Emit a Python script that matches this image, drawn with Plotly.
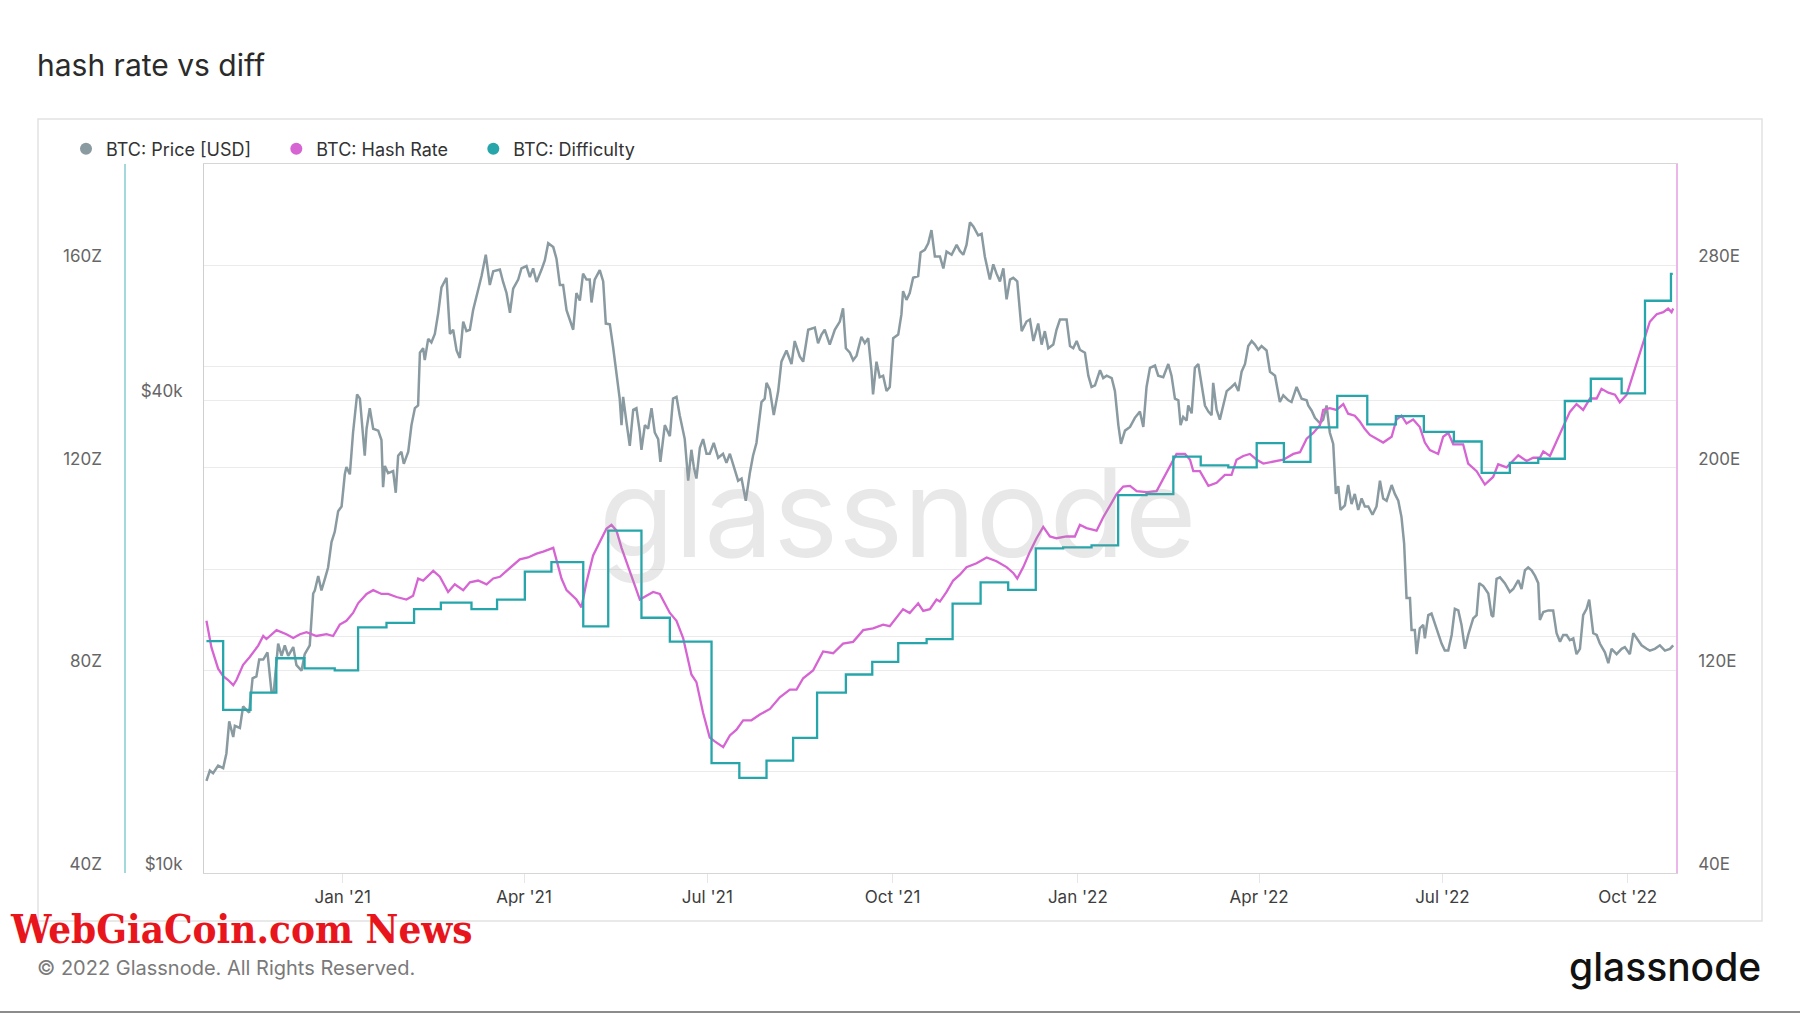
import numpy as np
import pandas as pd
import plotly.graph_objects as go

# ---------------- data (x values are days since 2021-01-01) ----------------
BASE = pd.Timestamp("2021-01-01")

diff_day = [-67.7, -59.4, -45.8, -33.0, -19.0, -4.0, 7.6, 21.7, 35.4, 48.7, 63.9, 76.6, 90.4, 103.6,
            119.4, 131.8, 148.3, 162.4, 183.1, 196.9, 210.4, 223.6, 235.5, 249.8, 262.9, 275.8, 289.9,
            302.8, 316.7, 330.4, 344.1, 357.7, 371.8, 385.0, 399.1, 412.4, 426.0, 439.7, 453.8, 467.3,
            480.5, 493.8, 508.7, 522.9, 536.8, 551.7, 565.5, 579.5, 593.6, 606.8, 619.7, 635.0, 646.6,
            659.5, 660.4]
diff_z = [85.8, 72.2, 75.6, 82.4, 80.4, 80.0, 88.5, 89.4, 92.1, 93.4, 92.1, 94.0, 99.5, 101.4,
          88.7, 107.6, 90.4, 85.7, 61.7, 58.8, 62.2, 66.7, 75.6, 79.2, 81.7, 85.4, 86.2,
          93.2, 97.4, 95.9, 104.1, 104.3, 104.7, 114.6, 114.8, 122.2, 120.5, 120.1, 124.9, 121.2,
          128.0, 134.2, 128.6, 130.2, 127.1, 125.2, 119.0, 121.0, 121.8, 133.2, 137.6, 134.7, 153.0,
          158.3, 158.3]

hash_day = [-67.7, -65.2, -61.9, -59.4, -56.9, -54.4, -52.8, -49.5, -46.2, -42.0, -39.5, -37.9, -32.9,
            -28.0, -24.6, -21.3, -18.0, -13.1, -8.1, -4.8, -1.5, 1.8, 5.1, 7.6, 11.8, 15.1, 19.2, 22.5,
            26.7, 31.6, 34.9, 37.4, 39.9, 44.9, 48.2, 52.3, 55.6, 59.8, 63.1, 67.2, 71.4, 74.7, 78.0,
            81.3, 84.6, 87.9, 92.0, 96.2, 99.5, 103.6, 104.5, 108.6, 111.1, 116.0, 118.5, 121.0, 124.3,
            127.6, 130.9, 133.4, 135.9, 138.4, 142.5, 147.5, 150.8, 154.1, 157.4, 162.4, 165.7, 169.0,
            173.1, 175.6, 178.9, 182.2, 184.7, 188.9, 192.2, 195.5, 198.8, 202.9, 207.1, 212.1, 217.0,
            222.0, 225.3, 228.6, 233.5, 238.5, 243.5, 248.4, 253.4, 258.4, 263.3, 268.3, 271.6, 275.0,
            278.2, 281.5, 285.7, 288.2, 291.5, 294.8, 296.5, 299.8, 303.1, 306.4, 309.7, 314.7, 319.7,
            324.6, 329.6, 332.9, 334.9, 337.9, 341.2, 344.5, 347.8, 351.1, 354.4, 359.4, 363.5, 366.0,
            369.3, 374.3, 377.6, 380.9, 384.2, 387.5, 390.9, 394.2, 399.1, 404.1, 407.4, 410.7, 414.0,
            418.2, 420.7, 422.3, 425.6, 429.8, 433.9, 438.0, 441.3, 443.8, 447.1, 450.4, 453.8, 457.1,
            462.0, 467.0, 472.0, 475.3, 478.6, 481.9, 485.2, 486.8, 490.1, 493.4, 496.8, 499.2, 502.5,
            505.0, 507.5, 510.0, 513.3, 516.6, 520.8, 523.2, 525.7, 528.2, 531.5, 534.8, 537.3, 539.8,
            543.9, 546.4, 548.9, 551.4, 556.3, 558.8, 563.0, 567.1, 571.2, 573.7, 577.9, 581.2, 583.7,
            587.8, 591.1, 594.4, 596.1, 599.4, 602.7, 606.0, 609.3, 612.6, 615.9, 619.3, 622.6, 625.0,
            628.4, 631.7, 634.1, 637.5, 639.9, 643.3, 645.7, 649.0, 652.4, 655.7, 658.1, 659.8, 660.6]
hash_e = [139.6, 129.0, 120.7, 117.7, 116.2, 114.2, 116.2, 122.2, 125.3, 129.8, 133.6, 132.4, 135.9,
          134.3, 132.8, 134.3, 135.1, 133.6, 134.3, 133.6, 138.1, 139.6, 142.7, 146.5, 150.2, 151.7, 150.2, 150.2,
          149.0, 148.0, 149.5, 156.3, 155.5, 159.3, 157.0, 151.0, 154.0, 151.7, 154.8, 155.5, 154.0, 156.3, 157.0,
          159.3, 161.6, 163.9, 164.6, 166.1, 166.9, 168.1, 168.4, 156.3, 151.7, 148.0, 144.9, 154.8, 165.4,
          170.7, 176.0, 177.5, 175.2, 168.4, 159.3, 148.0, 149.5, 151.0, 150.2, 142.7, 139.6, 132.8,
          118.4, 115.4, 103.3, 93.5, 92.0, 89.7, 94.3, 96.6, 100.3, 100.3, 102.6, 104.8, 109.4,
          112.4, 112.4, 116.9, 120.0, 127.5, 126.8, 130.6, 131.3, 135.9, 136.6, 138.1, 137.5, 141.2,
          144.2, 142.7, 146.5, 143.5, 144.2, 148.0, 147.2, 151.0, 155.5, 157.8, 160.8, 162.3, 164.6,
          163.1, 160.8, 158.5, 156.3, 160.8, 166.9, 172.2, 176.7, 172.9, 172.2, 172.9, 172.9, 177.5,
          176.2, 175.2, 180.5, 185.0, 189.6, 192.6, 192.9, 190.8, 190.4, 190.8, 195.6, 200.2, 205.5,
          205.5, 203.2, 198.7, 198.7, 192.9, 194.1, 197.2, 197.2, 203.2, 204.7, 205.5, 203.2, 201.7,
          202.5, 203.2, 205.5, 206.2, 211.5, 213.8, 216.8, 222.9, 223.6, 222.9, 225.2, 221.4, 220.6,
          218.3, 215.3, 213.0, 211.5, 210.0, 212.3, 219.1, 220.6, 217.5, 219.1, 216.1, 210.0, 207.0,
          205.5, 212.3, 213.8, 209.3, 209.3, 201.7, 198.7, 193.4, 196.4, 201.4, 200.2, 202.7, 205.0,
          202.7, 204.0, 204.0, 206.5, 204.7, 210.7, 216.8, 222.1, 225.2, 222.9, 227.4, 227.4, 231.2,
          229.7, 228.9, 225.9, 228.9, 235.0, 244.0, 250.1, 257.7, 260.7, 261.5, 262.9, 261.5, 262.9]

price_day = [-67.7, -66.0, -64.4, -61.9, -59.4, -57.8, -56.4, -54.4, -53.6, -51.1, -49.5, -46.5, -44.8,
             -42.9, -41.5, -39.5, -37.4, -35.4, -34.3, -32.1, -30.4, -28.8, -27.1, -24.6, -23.0, -20.5,
             -18.9, -16.4, -14.7, -13.9, -12.2, -10.6, -8.9, -7.3, -5.6, -4.0, -2.3, -0.6, 1.0, 1.8, 3.5,
             5.1, 7.1, 8.5, 10.9, 11.8, 13.4, 15.1, 17.6, 19.2, 20.0, 20.9, 22.5, 25.0, 26.3, 27.5, 29.1,
             30.3, 32.5, 34.1, 35.8, 37.4, 38.3, 39.9, 40.7, 42.4, 44.0, 45.7, 47.4, 49.0, 51.5, 53.2,
             54.8, 56.5, 58.1, 59.8, 61.4, 63.1, 64.7, 67.2, 68.9, 71.0, 73.0, 74.7, 78.0, 79.6, 81.3,
             83.0, 84.6, 87.1, 88.7, 91.2, 92.9, 94.5, 96.2, 98.7, 100.3, 102.0, 104.5, 106.1, 107.8,
             109.4, 111.1, 114.4, 116.0, 117.7, 119.3, 121.0, 122.6, 123.5, 125.1, 127.6, 129.3, 130.6,
             132.6, 134.2, 135.9, 137.5, 138.4, 139.2, 140.8, 142.5, 144.2, 145.8, 147.5, 148.3, 150.0,
             151.6, 153.3, 154.9, 156.6, 157.7, 159.9, 162.4, 164.0, 165.7, 167.3, 169.8, 171.5, 173.1,
             174.3, 175.6, 177.3, 178.9, 180.6, 182.2, 184.2, 186.4, 188.8, 190.5, 192.2, 194.6, 196.3,
             198.0, 200.1, 202.1, 203.7, 205.4, 207.9, 209.5, 210.4, 212.0, 214.0, 216.2, 217.8, 220.3,
             222.8, 224.4, 226.9, 228.6, 231.1, 234.4, 236.0, 237.7, 239.3, 241.8, 244.3, 246.8, 248.4,
             249.8, 251.8, 253.4, 255.1, 257.5, 259.2, 260.9, 262.5, 263.3, 265.0, 266.6, 268.3, 270.0,
             271.6, 273.3, 275.8, 277.4, 278.2, 279.9, 281.5, 283.2, 285.7, 286.9, 289.0, 290.7, 292.3,
             294.0, 296.5, 298.2, 299.8, 302.3, 304.8, 306.4, 308.1, 309.7, 311.4, 313.1, 315.5, 317.2,
             318.8, 321.3, 323.0, 324.6, 326.3, 328.0, 329.6, 331.3, 332.9, 334.9, 337.1, 339.5, 341.2,
             342.9, 345.3, 347.0, 348.6, 350.3, 352.8, 354.4, 356.1, 359.4, 361.1, 362.7, 364.4, 366.0,
             368.5, 370.2, 371.8, 373.5, 376.0, 377.6, 379.3, 381.8, 383.4, 385.1, 386.4, 388.4, 390.9,
             393.3, 395.8, 397.5, 399.1, 400.8, 403.3, 404.9, 407.4, 409.9, 411.5, 413.2, 414.9, 416.0,
             417.3, 419.0, 419.8, 421.5, 423.1, 424.8, 426.4, 428.1, 429.8, 431.4, 432.2, 433.9, 435.5,
             437.2, 438.9, 441.3, 443.0, 444.7, 446.3, 448.0, 449.6, 451.3, 452.9, 454.6, 456.2, 458.7,
             460.4, 462.9, 464.5, 465.3, 467.0, 469.5, 471.1, 473.6, 476.1, 478.6, 479.4, 481.1, 482.7,
             485.2, 486.8, 488.5, 490.1, 491.8, 493.1, 494.3, 495.4, 497.6, 499.2, 500.9, 502.5, 504.2,
             505.9, 507.5, 509.2, 511.3, 513.3, 515.0, 516.6, 518.3, 520.8, 522.4, 524.1, 525.7, 527.0,
             528.2, 529.9, 530.7, 532.3, 533.2, 534.8, 536.5, 537.3, 539.0, 540.6, 543.1, 545.6, 547.2,
             548.9, 550.6, 552.2, 553.9, 555.5, 557.2, 558.8, 561.3, 563.0, 564.3, 566.3, 568.8, 570.4,
             571.2, 572.9, 574.6, 577.0, 579.5, 581.2, 583.7, 585.3, 587.0, 588.6, 590.3, 592.0, 593.6,
             594.4, 596.1, 598.6, 601.0, 602.7, 604.4, 606.0, 607.7, 609.3, 611.0, 612.6, 614.3, 615.9,
             617.6, 618.9, 620.9, 622.6, 624.2, 625.9, 626.7, 628.4, 630.0, 632.5, 635.0, 636.6, 639.1,
             640.8, 643.3, 644.9, 647.4, 649.0, 651.5, 654.0, 656.5, 659.0, 660.6]
price_k = [13.1, 13.5, 13.4, 13.7, 13.6, 14.2, 15.6, 14.9, 15.4, 15.3, 16.3, 16.0, 17.7,
           17.8, 18.7, 18.7, 19.1, 17.0, 17.0, 19.6, 18.9, 19.5, 18.9, 19.4, 18.4, 18.1,
           19.0, 19.5, 22.7, 22.9, 23.9, 22.9, 23.7, 24.5, 26.4, 27.2, 28.9, 29.3, 32.2, 32.9, 32.2,
           36.4, 40.7, 40.2, 34.0, 36.8, 39.1, 36.8, 36.6, 35.6, 31.0, 33.0, 32.3, 32.5, 30.5, 34.0, 34.4,
           33.2, 34.4, 37.2, 39.1, 39.4, 46.0, 46.6, 45.0, 47.9, 47.4, 48.6, 51.7, 55.7, 57.3, 48.6,
           49.2, 46.3, 45.3, 50.4, 49.0, 49.2, 52.1, 55.1, 57.6, 61.3, 56.1, 58.4, 58.7, 56.6, 54.8,
           51.7, 55.5, 57.0, 58.9, 59.3, 57.4, 58.9, 56.6, 58.7, 60.3, 63.4, 62.7, 60.6, 56.1,
           56.1, 52.1, 49.2, 54.8, 53.6, 58.0, 57.0, 57.0, 53.3, 57.0, 58.6, 56.7, 50.1,
           50.0, 46.8, 43.2, 40.2, 37.2, 40.4, 37.6, 35.0, 38.9, 39.1, 36.4, 34.6, 37.2,
           36.8, 39.1, 36.4, 35.7, 33.4, 37.2, 36.0, 40.2, 40.4, 38.3, 35.7, 31.6, 34.6,
           32.9, 31.8, 34.8, 35.7, 34.2, 34.2, 35.3, 33.8, 34.2, 33.3, 34.2, 32.7, 31.6,
           31.8, 29.8, 32.3, 34.0, 35.3, 39.8, 40.2, 42.1, 41.3, 38.3, 41.1, 44.8, 46.3,
           44.5, 47.6, 45.5, 44.8, 49.2, 49.5, 47.3, 48.5, 49.2, 47.1, 49.2, 50.4, 52.4,
           46.6, 46.0, 45.0, 45.6, 48.2, 47.3, 48.0, 43.7, 40.7, 44.8, 42.8, 43.0, 41.1,
           41.6, 48.0, 48.5, 51.5, 55.1, 53.7, 54.8, 57.3, 57.6, 61.7, 62.2, 63.4, 65.9,
           61.0, 61.0, 58.9, 61.9, 61.3, 63.1, 62.0, 61.3, 63.1, 67.4, 66.6, 64.9, 65.2,
           61.0, 57.0, 59.6, 58.0, 56.7, 58.9, 53.8, 57.0, 57.3, 56.7, 49.0, 50.4, 50.7,
           47.6, 50.1, 47.1, 49.0, 46.6, 47.1, 49.2, 50.7, 50.7, 46.9, 46.6, 47.6, 46.4,
           46.0, 43.0, 41.6, 41.8, 43.7, 42.7, 43.0, 42.7, 41.1, 37.2, 35.2, 36.6, 37.0,
           38.0, 38.7, 37.0, 41.6, 44.0, 44.3, 43.0, 42.8, 44.5, 43.0, 40.2, 40.0, 37.2,
           38.1, 37.7, 39.4, 38.5, 44.0, 44.5, 42.1, 39.4, 38.7, 38.3, 42.1, 38.9, 37.8,
           39.4, 41.1, 41.6, 42.0, 41.1, 43.5, 44.5, 46.9, 47.6, 47.1, 46.4, 46.9, 46.3,
           43.5, 43.0, 41.1, 39.8, 40.6, 40.0, 39.8, 41.6, 40.2, 40.0, 39.4, 38.8, 38.0,
           37.4, 37.8, 39.4, 36.4, 35.2, 30.4, 31.1, 29.0, 29.4, 31.2, 29.5, 30.4, 29.0,
           30.0, 29.3, 29.3, 28.6, 29.3, 31.6, 30.0, 29.8, 31.2, 30.4, 29.8, 28.4, 26.3,
           22.4, 22.4, 20.4, 20.4, 19.0, 20.5, 20.7, 19.9, 21.3, 21.4, 20.5, 19.6, 19.2,
           19.2, 20.1, 21.7, 21.6, 20.7, 19.3, 20.1, 21.1, 21.3, 23.4, 23.2, 22.7, 21.3,
           21.2, 23.7, 23.8, 23.4, 22.8, 23.0, 23.6, 23.0, 24.3, 24.5, 24.3, 23.9, 23.4,
           21.0, 21.5, 21.6, 21.6, 20.2, 19.7, 20.1, 20.1, 19.8, 19.9, 19.0, 19.3, 21.3,
           21.7, 22.3, 20.2, 20.1, 19.6, 19.3, 19.1, 18.5, 19.3, 19.0, 19.3, 19.4, 19.0,
           20.2, 19.8, 19.5, 19.3, 19.2, 19.3, 19.5, 19.2, 19.3, 19.5]

x_tick_dates = ["2021-01-01", "2021-04-01", "2021-07-01", "2021-10-01",
                "2022-01-01", "2022-04-01", "2022-07-01", "2022-10-01"]
x_tick_text = ["Jan '21", "Apr '21", "Jul '21", "Oct '21", "Jan '22", "Apr '22", "Jul '22", "Oct '22"]
z_tick_vals = [40, 60, 80, 100, 120, 140, 160]
z_tick_text = ["40Z", "", "80Z", "", "120Z", "", "160Z"]
e_tick_vals = [40, 120, 200, 280]
e_tick_text = ["40E", "120E", "200E", "280E"]
usd_tick_vals = [10000, 20000, 40000]
usd_tick_text = ["$10k", "", "$40k"]


def to_dates(days):
    return BASE + pd.to_timedelta(np.array(days, dtype=float), unit="D")


# ---------------- layout geometry ----------------
W, H = 1800, 1013
ML, MR, MT, MB = 40, 40, 164, 140
PW, PH = W - ML - MR, H - MT - MB


def px(x):
    return (x - ML) / PW


def py(y):
    return (H - MB - y) / PH


FONT = "Inter, Roboto, sans-serif"
C_PRICE = "#8A9AA1"
C_HASH = "#D664D2"
C_DIFF = "#26A6AA"

fig = go.Figure()

fig.add_trace(go.Scatter(x=to_dates(price_day), y=np.array(price_k) * 1000, mode="lines",
                         line=dict(color=C_PRICE, width=2.5), showlegend=False,
                         xaxis="x", yaxis="y", name="BTC: Price [USD]"))
fig.add_trace(go.Scatter(x=to_dates(hash_day), y=hash_e, mode="lines",
                         line=dict(color=C_HASH, width=2.3), showlegend=False,
                         xaxis="x", yaxis="y2", name="BTC: Hash Rate"))
fig.add_trace(go.Scatter(x=to_dates(diff_day), y=diff_z, mode="lines",
                         line=dict(color=C_DIFF, width=2.3, shape="hv"), showlegend=False,
                         xaxis="x", yaxis="y3", name="BTC: Difficulty"))

# legend entries (circle markers)
pad = "\u00a0" * 4
for name, col in [("BTC: Price [USD]", C_PRICE), ("BTC: Hash Rate", C_HASH), ("BTC: Difficulty", C_DIFF)]:
    fig.add_trace(go.Scatter(x=[None], y=[None], mode="markers", name=name + pad,
                             marker=dict(symbol="circle", size=13, color=col),
                             showlegend=True, xaxis="x", yaxis="y"))

TICKFONT = dict(family=FONT, size=17, color="#666")

fig.update_layout(
    width=W, height=H, autosize=False,
    margin=dict(l=ML, r=MR, t=MT, b=MB, pad=0),
    paper_bgcolor="white", plot_bgcolor="white",
    font=dict(family=FONT, size=16, color="#555"),
    title=dict(text="hash rate vs diff", x=37 / W, xref="container", xanchor="left",
               y=1 - 65 / H, yref="container", yanchor="middle",
               font=dict(family=FONT, size=30, color="#2b2b2b")),
    showlegend=True,
    legend=dict(orientation="h", x=px(66), xanchor="left", y=py(149), yanchor="middle",
                font=dict(family=FONT, size=18, color="#333"), itemsizing="constant",
                bgcolor="rgba(0,0,0,0)", borderwidth=0, traceorder="normal"),
    xaxis=dict(domain=[px(204), px(1676)], type="date",
               range=["2020-10-24 02:00", "2022-10-25"],
               tickvals=x_tick_dates, ticktext=x_tick_text,
               tickfont=dict(family=FONT, size=17, color="#3d3d3d"),
               ticks="outside", ticklen=9, tickcolor="#e6e6e6", tickwidth=1,
               showgrid=False, zeroline=False,
               showline=True, linecolor="#d6d6d6", linewidth=1, mirror=True),
    yaxis=dict(type="log", range=[4, np.log10(80000)], side="left", anchor="x",
               tickvals=usd_tick_vals, ticktext=usd_tick_text, tickfont=TICKFONT,
               ticks="", ticklabelposition="outside top", ticklabelstandoff=17, ticklabelshift=3,
               showgrid=True, gridcolor="#ebebeb", gridwidth=1, zeroline=False,
               showline=True, linecolor="#cfcfcf", linewidth=1),
    yaxis2=dict(range=[40, 320], side="right", anchor="x", overlaying="y",
                tickvals=e_tick_vals, ticktext=e_tick_text, tickfont=TICKFONT,
                ticks="", ticklabelposition="outside top", ticklabelstandoff=17, ticklabelshift=3,
                showgrid=False, zeroline=False,
                showline=True, linecolor="#ecb6e9", linewidth=1.5),
    yaxis3=dict(range=[40, 180], side="left", anchor="free", position=px(125), overlaying="y",
                tickvals=z_tick_vals, ticktext=z_tick_text, tickfont=TICKFONT,
                ticks="", ticklabelposition="outside top", ticklabelstandoff=19, ticklabelshift=3,
                showgrid=True, gridcolor="#ebebeb", gridwidth=1, zeroline=False,
                showline=True, linecolor="#a3d9db", linewidth=1.5),
)

# outer frame
fig.add_shape(type="rect", xref="paper", yref="paper", x0=px(38), x1=px(1762), y0=py(921), y1=py(119),
              line=dict(color="#e2e2e2", width=1.5), fillcolor="rgba(0,0,0,0)", layer="below")
# bottom page rule
fig.add_shape(type="line", xref="paper", yref="paper", x0=px(0), x1=px(1800), y0=py(1012), y1=py(1012),
              line=dict(color="#8c8c8c", width=2))

# big background watermark
fig.add_annotation(text="glassnode", xref="paper", yref="paper", x=px(898), y=py(512),
                   xanchor="center", yanchor="middle", showarrow=False,
                   font=dict(family=FONT, size=123, color="rgba(150,150,150,0.22)"))

# footer
fig.add_annotation(text="© 2022 Glassnode. All Rights Reserved.", xref="paper", yref="paper",
                   x=px(35), y=py(968), xanchor="left", yanchor="middle", showarrow=False,
                   font=dict(family=FONT, size=20, color="#7a7a7a"))
fig.add_annotation(text="glassnode", xref="paper", yref="paper",
                   x=px(1763), y=py(966), xanchor="right", yanchor="middle", showarrow=False,
                   font=dict(family=FONT, size=39, color="#111", weight=500))
fig.add_annotation(text="WebGiaCoin.com News", xref="paper", yref="paper",
                   x=px(8), y=py(928), xanchor="left", yanchor="middle", showarrow=False,
                   font=dict(family="DejaVu Serif Condensed, DejaVu Serif, serif", size=40,
                             color="#E8161C", weight="bold"))

fig.write_html("out.html")
